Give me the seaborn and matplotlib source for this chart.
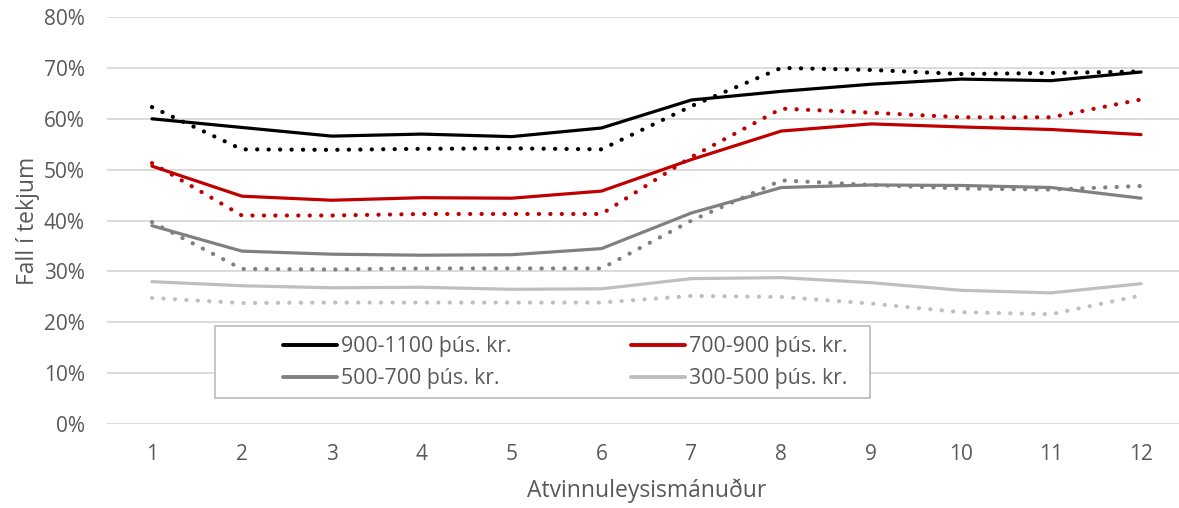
import numpy as np
import pandas as pd
import matplotlib
matplotlib.use('Agg')
import matplotlib.pyplot as plt
import seaborn as sns
from matplotlib.lines import Line2D
from matplotlib.patches import Rectangle

sns.set_style('white')
plt.rcParams['font.family'] = ['Open Sans', 'DejaVu Sans']

months = list(range(1, 13))

# solid lines
black_solid = [60.0, 58.3, 56.6, 57.0, 56.5, 58.2, 63.7, 65.4, 66.8, 67.8, 67.5, 69.2]
red_solid = [50.7, 44.8, 44.0, 44.5, 44.4, 45.8, 52.0, 57.6, 59.0, 58.4, 57.9, 56.9]
gray_solid = [39.0, 34.0, 33.4, 33.2, 33.3, 34.5, 41.5, 46.5, 47.0, 46.9, 46.5, 44.4]
light_solid = [28.0, 27.2, 26.8, 26.9, 26.5, 26.6, 28.6, 28.8, 27.8, 26.3, 25.8, 27.6]

# dotted lines
black_dot = [62.3, 54.0, 53.9, 54.1, 54.2, 54.0, 62.5, 70.0, 69.6, 68.8, 69.0, 69.3]
red_dot = [51.3, 41.0, 41.0, 41.3, 41.3, 41.3, 52.5, 62.0, 61.2, 60.3, 60.3, 63.8]
gray_dot = [39.7, 30.5, 30.4, 30.6, 30.6, 30.6, 40.0, 47.9, 47.0, 46.3, 46.1, 46.8]
light_dot = [24.8, 23.8, 23.9, 23.9, 23.9, 23.9, 25.2, 25.0, 23.7, 22.0, 21.6, 25.3]

labels = ['900-1100 þús. kr.', '700-900 þús. kr.', '500-700 þús. kr.', '300-500 þús. kr.']
colors = ['#000000', '#c00000', '#808080', '#bfbfbf']

solids = [black_solid, red_solid, gray_solid, light_solid]
dots = [black_dot, red_dot, gray_dot, light_dot]

txt = '#595959'

fig = plt.figure(figsize=(11.79, 5.08), dpi=100)
ax = fig.add_axes([107/1179, 0.165, 1079/1179, 0.8015])

for vals, c in zip(dots, colors):
    sns.lineplot(x=months, y=np.array(vals) / 100, ax=ax, color=c, linewidth=3,
                 linestyle=(0, (0.05, 2.7)), dash_capstyle='round')
for vals, c in zip(solids, colors):
    sns.lineplot(x=months, y=np.array(vals) / 100, ax=ax, color=c, linewidth=2.3)

ax.set_xlim(0.5, 12.5)
ax.set_ylim(0, 0.8)
ax.set_yticks(np.arange(0, 0.81, 0.1))
ax.set_yticklabels([f'{int(round(v*100))}%' for v in np.arange(0, 0.81, 0.1)])
ax.set_xticks(months)
ax.grid(axis='y', color='#d9d9d9', linewidth=1.3)
ax.set_axisbelow(True)
for s in ax.spines.values():
    s.set_visible(False)
ax.tick_params(length=0, labelsize=15, colors=txt)
ax.tick_params(axis='x', pad=14)
ax.tick_params(axis='y', pad=16)

ax.set_xlabel('Atvinnuleysismánuður', fontsize=16.5, color=txt, labelpad=10)
ax.set_ylabel('Fall í tekjum', fontsize=16.5, color=txt, labelpad=3)

# legend box drawn separately, entries row-wise
ax.add_patch(Rectangle((0.1001, 0.064), 0.607, 0.177, transform=ax.transAxes,
                       facecolor='white', edgecolor='#bfbfbf', linewidth=1.3, zorder=5))
order = [0, 2, 1, 3]
handles = [Line2D([], [], color=colors[i], linewidth=2.8) for i in order]
leg = ax.legend(handles, [labels[i] for i in order], ncol=2, loc='center left',
                bbox_to_anchor=(0.163, 0.151), frameon=False, fontsize=15.3,
                handlelength=2.55, handletextpad=0.2, borderpad=0,
                labelspacing=0.5, borderaxespad=0, columnspacing=5.6)
leg.set_zorder(6)
for t in leg.get_texts():
    t.set_color(txt)

fig.savefig('out.png', dpi=100)
